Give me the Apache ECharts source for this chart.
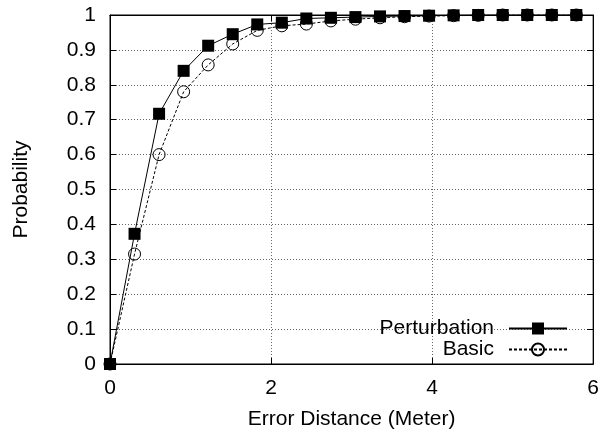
<!DOCTYPE html>
<html><head><meta charset="utf-8">
<script src="https://cdn.jsdelivr.net/npm/echarts@6/dist/echarts.min.js"></script>
<style>html,body{margin:0;padding:0;background:#fff}#c{width:602px;height:435px}</style>
</head><body><div id="c"></div>
<script>
const xValues = [0, 0.3048, 0.6096, 0.9144, 1.2192, 1.524, 1.8288, 2.1336, 2.4384, 2.7432, 3.048, 3.3528, 3.6576, 3.9624, 4.2672, 4.572, 4.8768, 5.1816, 5.4864, 5.7912];
const perturbation = [0, 0.373, 0.717, 0.84, 0.912, 0.945, 0.973, 0.978, 0.99, 0.992, 0.994, 0.996, 0.997, 0.998, 0.999, 1, 1, 1, 1, 1];
const basic = [0, 0.315, 0.60, 0.78, 0.857, 0.917, 0.956, 0.969, 0.974, 0.983, 0.988, 0.992, 0.995, 0.997, 0.998, 0.999, 1, 1, 1, 1];
const xTitle = 'Error Distance (Meter)';
const yTitle = 'Probability';
const seriesNames = ['Perturbation', 'Basic'];

const FONT = 'Liberation Sans';
const FS = 21;
const chart = echarts.init(document.getElementById('c'));
const pair = (ys) => xValues.map((x, i) => [x, ys[i]]);
const tickStyle = {show: true, inside: true, length: 6, lineStyle: {color: '#000', width: 1}};
const gridLine = {show: true, lineStyle: {color: '#666', type: [1, 2], width: 1}};
chart.setOption({
  animation: false,
  backgroundColor: '#fff',
  textStyle: {fontFamily: FONT},
  grid: {left: 110, right: 7, top: 15, bottom: 70, show: true, borderColor: '#000', borderWidth: 1, backgroundColor: 'transparent'},
  xAxis: [{
    type: 'value', min: 0, max: 6, interval: 2, position: 'bottom',
    axisLine: {show: true, onZero: false, lineStyle: {color: '#000'}},
    axisTick: tickStyle,
    axisLabel: {color: '#000', fontSize: FS, fontFamily: FONT, margin: 14},
    splitLine: gridLine,
    name: xTitle, nameLocation: 'middle', nameGap: 45,
    nameTextStyle: {color: '#000', fontSize: FS, fontFamily: FONT}
  }, {
    type: 'value', min: 0, max: 6, interval: 2, position: 'top',
    axisLine: {show: true, onZero: false, lineStyle: {color: '#000'}},
    axisTick: tickStyle, axisLabel: {show: false}, splitLine: {show: false}
  }],
  yAxis: [{
    type: 'value', min: 0, max: 1, interval: 0.1, position: 'left',
    axisLine: {show: true, onZero: false, lineStyle: {color: '#000'}},
    axisTick: tickStyle,
    axisLabel: {color: '#000', fontSize: FS, fontFamily: FONT, margin: 14},
    splitLine: gridLine,
    name: yTitle, nameLocation: 'middle', nameGap: 78, nameRotate: 90,
    nameTextStyle: {color: '#000', fontSize: FS, fontFamily: FONT}
  }, {
    type: 'value', min: 0, max: 1, interval: 0.1, position: 'right',
    axisLine: {show: true, onZero: false, lineStyle: {color: '#000'}},
    axisTick: tickStyle, axisLabel: {show: false}, splitLine: {show: false}
  }],
  legend: {
    orient: 'vertical', align: 'right', right: 29, top: 313,
    itemWidth: 58, itemHeight: 15, itemGap: 0,
    textStyle: {color: '#000', fontSize: FS, fontFamily: FONT, padding: [0, 10, 0, 0]},
    data: seriesNames
  },
  series: [{
    name: seriesNames[1], type: 'line', data: pair(basic), z: 2,
    symbol: 'circle', symbolSize: 12,
    lineStyle: {color: '#000', width: 1, type: [3, 2]},
    itemStyle: {color: 'rgba(255,255,255,0)', borderColor: '#000', borderWidth: 1}
  }, {
    name: seriesNames[0], type: 'line', data: pair(perturbation), z: 3,
    symbol: 'rect', symbolSize: 12,
    lineStyle: {color: '#000', width: 1},
    itemStyle: {color: '#000'}
  }]
});
</script></body></html>
